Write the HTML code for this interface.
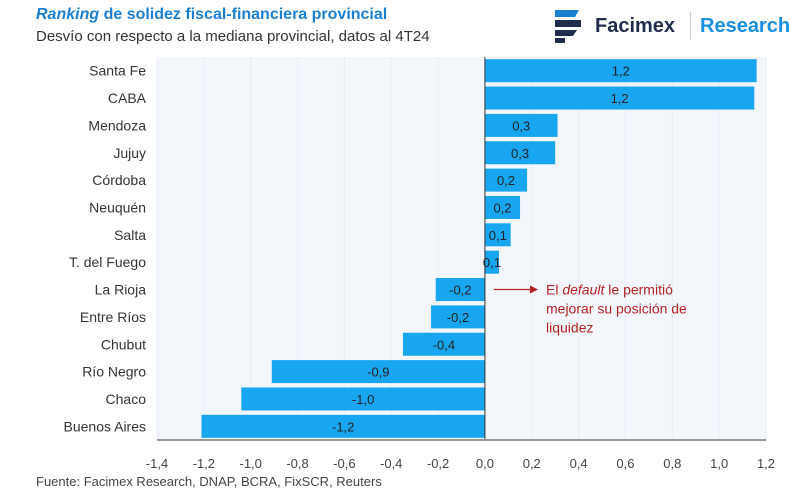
<!DOCTYPE html>
<html><head><meta charset="utf-8">
<style>
body{margin:0;width:800px;height:500px;background:#fff;font-family:"Liberation Sans",sans-serif;overflow:hidden;position:relative}
.t1{position:absolute;left:36px;top:6px;font-size:16px;font-weight:bold;color:#1a7fd0}
.t2{position:absolute;left:36px;top:28px;font-size:15px;color:#333}
.src{position:absolute;left:36px;top:474px;font-size:13px;color:#444}
</style></head><body>
<div class="t1"><i>Ranking</i> de solidez fiscal-financiera provincial</div>
<div class="t2">Desvío con respecto a la mediana provincial, datos al 4T24</div>
<div style="position:absolute;left:553px;top:8px;width:240px;height:36px">
<svg width="30" height="36"><path d="M2 2 H26 L22 9 H2Z" fill="#1a7fd0"/><path d="M2 12 H28 L28 19 H2Z" fill="#1f2e4d"/><path d="M2 22 H24 L20 28 H2Z" fill="#1f2e4d"/><rect x="2" y="30" width="10" height="5" fill="#1f2e4d"/></svg>
<span style="position:absolute;left:42px;top:7px;font-size:20px;font-weight:bold;color:#1f2e4d">Facimex</span>
<span style="position:absolute;left:137px;top:4px;width:1px;height:28px;background:#ccc"></span>
<span style="position:absolute;left:147px;top:7px;font-size:20px;font-weight:bold;color:#1a8fe0">Research</span>
</div>
<svg id="c" width="800" height="500" style="position:absolute;left:0;top:0"></svg>
<div class="src">Fuente: Facimex Research, DNAP, BCRA, FixSCR, Reuters</div>
<script>
const categories=["Santa Fe","CABA","Mendoza","Jujuy","Córdoba","Neuquén","Salta","T. del Fuego","La Rioja","Entre Ríos","Chubut","Río Negro","Chaco","Buenos Aires"];
const values=[1.16,1.15,0.31,0.30,0.18,0.15,0.11,0.06,-0.21,-0.23,-0.35,-0.91,-1.04,-1.21];
const labels=["1,2","1,2","0,3","0,3","0,2","0,2","0,1","0,1","-0,2","-0,2","-0,4","-0,9","-1,0","-1,2"];
const ticks=[-1.4,-1.2,-1.0,-0.8,-0.6,-0.4,-0.2,0,0.2,0.4,0.6,0.8,1.0,1.2];
const tickLabels=["-1,4","-1,2","-1,0","-0,8","-0,6","-0,4","-0,2","0,0","0,2","0,4","0,6","0,8","1,0","1,2"];
const NS="http://www.w3.org/2000/svg",svg=document.getElementById('c');
const x0=157,x1=766,yTop=57,yBot=440,vmin=-1.4,vmax=1.2;
const X=v=>x0+(v-vmin)/(vmax-vmin)*(x1-x0);
const step=(yBot-yTop)/categories.length;
const Y=i=>yTop+step*i+step/2;
function mk(t,a,txt){const e=document.createElementNS(NS,t);for(const k in a)e.setAttribute(k,a[k]);if(txt!=null)e.textContent=txt;svg.appendChild(e);return e;}
let bg=mk('rect',{x:x0,y:yTop,width:x1-x0,height:yBot-yTop,fill:'#f3f7fc'});


ticks.forEach((t,i)=>{
 let g=mk('line',{x1:X(t),x2:X(t),y1:yTop,y2:yBot,stroke:'#e6edf5','stroke-width':1});
 
 
 let tl=mk('text',{x:X(t),y:468,'text-anchor':'middle','font-size':13,fill:'#444'},tickLabels[i]);
 
 
});
categories.forEach((c,i)=>{
 const v=values[i],bh=23,y=Y(i);
 let r=mk('rect',{x:Math.min(X(0),X(v)),y:y-bh/2,width:Math.abs(X(v)-X(0)),height:bh,fill:'#19a6f0'});
 
 
 let cl=mk('text',{x:146,y:y+5,'text-anchor':'end','font-size':14,fill:'#333'},c);
 
 
 let vl=mk('text',{x:(X(0)+X(v))/2,y:y+5,'text-anchor':'middle','font-size':13,fill:'#222'},labels[i]);
 
 
});
let z=mk('line',{x1:X(0),x2:X(0),y1:yTop,y2:yBot,stroke:'#333','stroke-width':1});


let ax=mk('line',{x1:x0,x2:x1,y1:yBot,y2:yBot,stroke:'#999','stroke-width':2});


const ay=Y(8);
let ar=mk('line',{x1:494,x2:532,y1:ay,y2:ay,stroke:'#b22222','stroke-width':1.2});


let ah=mk('path',{d:`M538 ${ay} L530 ${ay-4} L530 ${ay+4}Z`,fill:'#b22222'});


const note=["El |default| le permitió","mejorar su posición de","liquidez"];
note.forEach((n,i)=>{
 let t=mk('text',{x:546,y:ay+5+i*19,'font-size':14,fill:'#b22222'});
 
 
 n.split('|').forEach((p,j)=>{const s=document.createElementNS(NS,'tspan');if(j===1)s.setAttribute('font-style','italic');s.textContent=p;t.appendChild(s);});
});
</script>
</body></html>
